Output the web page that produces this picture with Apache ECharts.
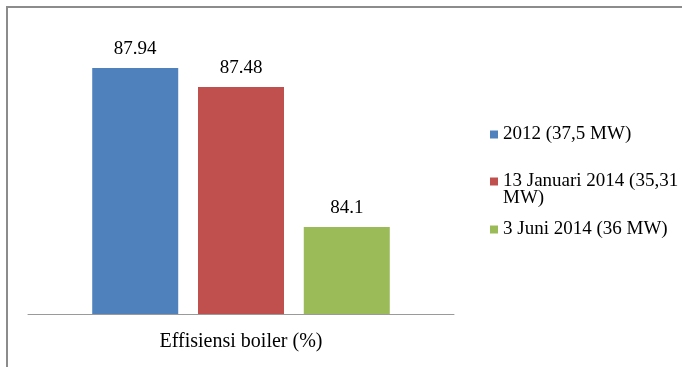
<!DOCTYPE html>
<html>
<head>
<meta charset="utf-8">
<script src="https://cdn.jsdelivr.net/npm/echarts@6/dist/echarts.min.js"></script>
<style>
  html, body { margin: 0; padding: 0; background: #fff; }
  #chart { width: 682px; height: 367px; }
</style>
</head>
<body>
<div id="chart"></div>
<script>
const categories = ['Effisiensi boiler (%)']
const seriesNames = ['2012 (37,5 MW)', '13 Januari 2014 (35,31 MW)', '3 Juni 2014 (36 MW)']
const seriesValues = [[87.94], [87.48], [84.1]]
const seriesColors = ['#4f81bd', '#c0504d', '#9bbb59']

const font = 'Liberation Serif, Times New Roman, serif'

const myChart = echarts.init(document.getElementById('chart'))

// 图例逐项放置；第二项换行，前加空行让图标对齐第一行
const legendTops = [120, 150, 215]
const legends = seriesNames.map((name, i) => ({
    data: [name],
    orient: 'vertical',
    left: 485,
    top: legendTops[i],
    itemWidth: 8,
    itemHeight: 8,
    itemGap: 0,
    icon: 'rect',
    formatter: (n) => n === seriesNames[1] ? ' \n13 Januari 2014 (35,31\nMW)' : n,
    textStyle: {
        fontFamily: font,
        fontSize: 19,
        color: '#000',
        lineHeight: 17
    }
}))

const option = {
    animation: false,
    backgroundColor: '#fff',
    legend: legends,
    grid: {
        left: 28,
        right: 228,
        top: 24,
        bottom: 53
    },
    xAxis: {
        type: 'category',
        data: categories,
        axisLine: { lineStyle: { color: '#9a9a9a', width: 1 } },
        axisTick: { show: false },
        axisLabel: {
            margin: 18,
            fontFamily: font,
            fontSize: 20,
            color: '#000'
        }
    },
    yAxis: {
        type: 'value',
        min: 82,
        max: 89,
        show: false
    },
    graphic: [
        {
            type: 'polyline',
            shape: { points: [[7, 367], [7, 7], [682, 7]] },
            style: { stroke: '#8c8c8c', lineWidth: 2, fill: null }
        }
    ],
    series: seriesNames.map((name, i) => ({
        name: name,
        type: 'bar',
        data: seriesValues[i],
        barWidth: 86,
        barGap: '23%',
        itemStyle: { color: seriesColors[i] },
        label: {
            show: true,
            position: 'top',
            distance: 9,
            fontFamily: font,
            fontSize: 19,
            color: '#000'
        }
    }))
}

option && myChart.setOption(option)
</script>
</body>
</html>
